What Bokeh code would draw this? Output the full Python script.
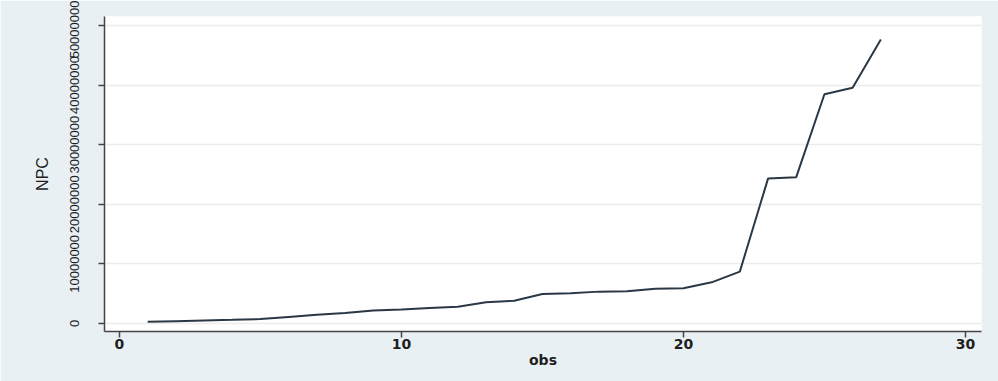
from bokeh.plotting import figure
from bokeh.models import Range1d, FixedTicker
from bokeh.embed import file_html
from bokeh.resources import INLINE

# observation index and NPC value per observation
obs = [1, 2, 3, 4, 5, 6, 7, 8, 9, 10, 11, 12, 13, 14, 15, 16, 17, 18, 19, 20, 21, 22, 23, 24, 25, 26, 27]
npc = [280000, 390000, 500000, 610000, 730000, 1100000, 1460000, 1740000, 2190000, 2360000,
       2580000, 2810000, 3540000, 3820000, 4940000, 5060000, 5340000, 5390000, 5840000, 5900000,
       6900000, 8700000, 24300000, 24550000, 38450000, 39550000, 47650000]

x_ticks = [0, 10, 20, 30]
y_ticks = [0, 10000000, 20000000, 30000000, 40000000, 50000000]

outer_bg = "#e9f0f3"
text_color = "#1e1e1e"
wide_font = "DejaVu Sans"
y_font = "Liberation Sans"

p = figure(width=998, height=381, output_backend="svg", toolbar_location=None,
           x_range=Range1d(-0.53, 30.57), y_range=Range1d(-1350000, 51500000))

p.min_border_left = 104
p.min_border_right = 17
p.min_border_top = 16
p.min_border_bottom = 50

p.background_fill_color = "white"
p.border_fill_color = outer_bg
p.outline_line_color = None

p.line(obs, npc, line_color="#2a3845", line_width=2)

# axes
for ax in (p.xaxis[0], p.yaxis[0]):
    ax.axis_line_color = "#444444"
    ax.axis_line_width = 1.5
    ax.major_tick_line_color = "#444444"
    ax.major_tick_line_width = 1.5
    ax.major_tick_out = 6
    ax.major_tick_in = 0
    ax.minor_tick_line_color = None
    ax.major_label_text_color = text_color
    ax.axis_label_text_color = text_color

# x axis: wide bold text
p.xaxis.major_label_text_font = wide_font
p.xaxis.major_label_text_font_style = "bold"
p.xaxis.major_label_text_font_size = "14px"
p.xaxis.axis_label_text_font = wide_font
p.xaxis.axis_label_text_font_style = "bold"
p.xaxis.axis_label_text_font_size = "14px"

# y axis: rotated text
p.yaxis.major_label_text_font = y_font
p.yaxis.major_label_text_font_size = "13px"
p.yaxis.axis_label_text_font = y_font
p.yaxis.axis_label_text_font_style = "normal"
p.yaxis.axis_label_text_font_size = "16px"

p.xaxis.ticker = FixedTicker(ticks=x_ticks)
p.yaxis.ticker = FixedTicker(ticks=y_ticks)
p.xaxis.major_label_standoff = 1
p.yaxis.major_label_standoff = 19
p.yaxis.major_label_orientation = "vertical"
p.xaxis.axis_label = "obs"
p.yaxis.axis_label = "NPC"
p.xaxis.axis_label_standoff = 0
p.yaxis.axis_label_standoff = 17
p.yaxis.formatter.use_scientific = False

p.xgrid.grid_line_color = None
p.ygrid.grid_line_color = "#ececec"
p.ygrid.grid_line_width = 1.5

open("out.html", "w").write(file_html(p, INLINE))
